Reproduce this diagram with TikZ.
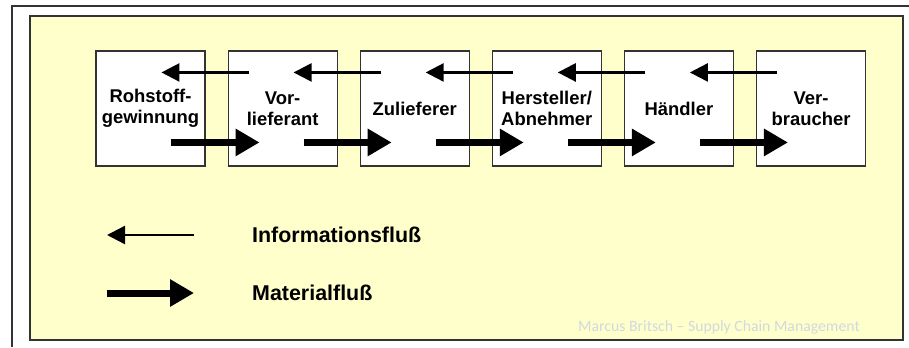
\documentclass[tikz,border=0pt]{standalone}
\usepackage{fontspec}
\setmainfont{Liberation Sans}
\newfontfamily\wmfont{Carlito}
\usetikzlibrary{positioning,arrows.meta}
\definecolor{paleyellow}{HTML}{FFFFCC}
\definecolor{framegray}{HTML}{333333}
\definecolor{markgray}{HTML}{D3D8DF}
\tikzset{
  stage/.style={draw=framegray,line width=1.1bp,fill=white,minimum width=109bp,minimum height=115bp,
    align=center,font=\fontsize{18.5}{21.5}\selectfont\bfseries,inner sep=0pt},
  infoflow/.style={line width=2.4bp,-{Triangle[length=18bp,width=18bp]}},
  matflow/.style={line width=7bp,-{Triangle[length=24bp,width=26bp]}},
  legendtext/.style={anchor=west,font=\fontsize{21.5}{24}\selectfont\bfseries,inner sep=0pt}
}
\begin{document}
\begin{tikzpicture}[x=1bp,y=-1bp,node distance=22bp]
				\useasboundingbox (0,0) rectangle (909,347);
				% frame and background
				\draw [framegray,line width=1.5bp] (12,347) -- (12,6) -- (909,6);
				\draw [framegray,line width=1.5bp,fill=paleyellow] (30,16) rectangle (903,340);
				% stages of the chain
				\node [stage] (rohstoff) at (150.5,108.5) {Rohstoff-\\gewinnung};
				\node [stage,right=of rohstoff] (vorlief) {Vor-\\lieferant};
				\node [stage,right=of vorlief] (zuliefer) {Zulieferer};
				\node [stage,right=of zuliefer] (hersteller) {Hersteller/\\Abnehmer};
				\node [stage,right=of hersteller] (haendler) {H\"andler};
				\node [stage,right=of haendler] (verbraucher) {Ver-\\braucher};
				% information flow (backwards)
				\draw [infoflow] ([shift={(21,22)}]vorlief.north west) -- ([shift={(66,22)}]rohstoff.north west);
				\draw [infoflow] ([shift={(21,22)}]zuliefer.north west) -- ([shift={(66,22)}]vorlief.north west);
				\draw [infoflow] ([shift={(21,22)}]hersteller.north west) -- ([shift={(66,22)}]zuliefer.north west);
				\draw [infoflow] ([shift={(21,22)}]haendler.north west) -- ([shift={(66,22)}]hersteller.north west);
				\draw [infoflow] ([shift={(21,22)}]verbraucher.north west) -- ([shift={(66,22)}]haendler.north west);
				% material flow (forwards)
				\draw [matflow] ([shift={(76,92)}]rohstoff.north west) -- ([shift={(32,92)}]vorlief.north west);
				\draw [matflow] ([shift={(76,92)}]vorlief.north west) -- ([shift={(32,92)}]zuliefer.north west);
				\draw [matflow] ([shift={(76,92)}]zuliefer.north west) -- ([shift={(32,92)}]hersteller.north west);
				\draw [matflow] ([shift={(76,92)}]hersteller.north west) -- ([shift={(32,92)}]haendler.north west);
				\draw [matflow] ([shift={(76,92)}]haendler.north west) -- ([shift={(32,92)}]verbraucher.north west);
				% legend
				\coordinate (infoA) at (194,235);
				\coordinate (infoB) at (107,235);
				\coordinate (matA) at (107,293);
				\coordinate (matB) at (194,293);
				\draw [infoflow] (infoA) -- (infoB);
				\draw [matflow] (matA) -- (matB);
				\node [legendtext] (infotext) at (252,235) {Informationsflu\ss};
				\node [legendtext] (mattext) at (252,293) {Materialflu\ss};
				\node [anchor=east,text=markgray,font=\wmfont\fontsize{15.8}{18}\selectfont,inner sep=0pt] (mark) at (860,327) {Marcus Britsch – Supply Chain Management};
			\end{tikzpicture}
\end{document}
